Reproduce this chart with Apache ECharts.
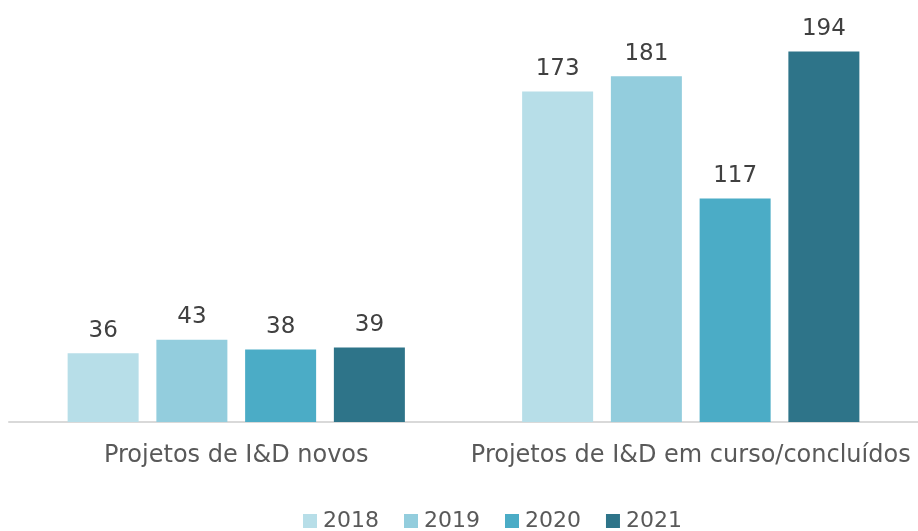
<!DOCTYPE html>
<html>
<head>
<meta charset="utf-8">
<script src="https://cdn.jsdelivr.net/npm/echarts@6/dist/echarts.min.js"></script>
<style>
  html, body { margin: 0; padding: 0; background: #fff; }
  #chart { width: 918px; height: 531px; }
</style>
</head>
<body>
<div id="chart"></div>
<script>
const categories = ["Projetos de I&D novos", "Projetos de I&D em curso/concluídos"];
const years = ["2018", "2019", "2020", "2021"];
const values2018 = [36, 173];
const values2019 = [43, 181];
const values2020 = [38, 117];
const values2021 = [39, 194];
const colors = ["#b7dee8", "#93cddd", "#4bacc6", "#2e7489"];

const allValues = [values2018, values2019, values2020, values2021];
const font = "'DejaVu Sans', sans-serif";

const myChart = echarts.init(document.getElementById("chart"));

const series = years.map((y, i) => ({
  name: y,
  type: "bar",
  data: allValues[i],
  barWidth: 71,
  barGap: "25%",
  itemStyle: { color: colors[i] },
  label: {
    show: true,
    position: "top",
    distance: 11,
    color: "#404040",
    fontSize: 23,
    fontFamily: font,
  },
}));

myChart.setOption({
  animation: false,
  color: colors,
  grid: { left: 9, right: -3, top: 40, bottom: 109 },
  legend: {
    left: 298,
    bottom: -6,
    itemWidth: 14,
    itemHeight: 14,
    itemGap: 25,
    icon: "rect",
    textStyle: { color: "#595959", fontSize: 22, fontFamily: font, padding: [0, 0, 0, 1] },
    data: years,
  },
  xAxis: {
    type: "category",
    data: categories,
    axisLine: { lineStyle: { color: "#d9d9d9", width: 2 } },
    axisTick: { show: false },
    axisLabel: {
      color: "#595959",
      fontSize: 24,
      fontFamily: font,
      margin: 22,
      interval: 0,
      hideOverlap: false,
    },
  },
  yAxis: {
    type: "value",
    min: 0,
    max: 200,
    show: false,
    splitLine: { show: false },
  },
  series: series,
});

window.addEventListener("resize", () => {
  myChart.resize();
});
</script>
</body>
</html>
